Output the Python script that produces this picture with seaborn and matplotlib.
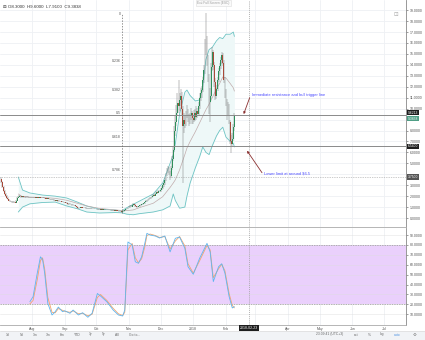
import numpy as np
import pandas as pd
import matplotlib
matplotlib.use("Agg")
import matplotlib.pyplot as plt
import seaborn as sns
from matplotlib.transforms import blended_transform_factory
from matplotlib.patches import Rectangle

# ---------------- data (day index: 0 = 2017-07-01) ----------------
first_day = 2
first_open = 3.60
close = [
    # Jul
    3.30, 2.80, 2.45, 2.20, 2.05, 1.85, 1.70, 1.60, 1.55, 1.50, 1.42, 1.52, 1.45, 1.40, 1.60, 1.85, 1.95, 2.05, 2.00, 1.90, 1.98, 1.95, 1.90, 1.92, 1.96, 1.88, 1.92, 1.90, 1.86,
    # Aug
    1.88, 1.92, 1.90, 1.86, 1.90, 1.87, 1.85, 1.88, 1.84, 1.86, 1.82, 1.85, 1.80, 1.78, 1.76, 1.80, 1.74, 1.72, 1.70, 1.66, 1.68, 1.62, 1.60, 1.64, 1.58, 1.55, 1.58, 1.52, 1.50, 1.48, 1.45,
    # Sep
    1.42, 1.40, 1.36, 1.25, 1.30, 1.28, 1.24, 1.18, 1.20, 1.15, 1.10, 1.05, 0.95, 0.88, 0.92, 0.98, 0.96, 0.94, 0.92, 0.95, 0.90, 0.88, 0.86, 0.88, 0.85, 0.86, 0.84, 0.82, 0.85, 0.83,
    # Oct
    0.82, 0.80, 0.78, 0.80, 0.76, 0.78, 0.75, 0.77, 0.74, 0.72, 0.75, 0.73, 0.74, 0.72, 0.70, 0.71, 0.70, 0.68, 0.69, 0.67, 0.66, 0.64, 0.62, 0.60, 0.56, 0.60, 0.66, 0.72, 0.80, 0.85, 0.90,
    # Nov
    1.00, 1.10, 1.05, 1.15, 1.25, 1.20, 1.10, 1.05, 1.00, 1.08, 1.15, 1.20, 1.25, 1.30, 1.35, 1.45, 1.55, 1.60, 1.70, 1.75, 1.80, 1.90, 2.00, 2.10, 2.05, 2.20, 2.35, 2.30, 2.50, 2.45,
    # Dec
    2.60, 2.75, 3.00, 3.20, 3.50, 3.90, 4.30, 4.50, 4.10, 3.80, 4.60, 5.40, 6.20, 8.00, 8.80, 9.60, 10.50, 10.20, 10.80, 11.20, 10.00, 8.40, 9.00, 8.60, 9.40, 9.80, 9.20, 8.80, 9.30, 9.60, 9.10,
    # Jan
    9.00, 9.60, 9.20, 9.80, 9.50, 10.20, 11.00, 11.40, 11.70, 12.60, 13.50, 15.80, 16.20, 14.50, 12.80, 10.60, 11.20, 13.80, 15.20, 14.00, 12.40, 11.20, 11.80, 12.60, 13.40, 13.90, 14.40, 14.90, 14.20, 12.60, 11.40,
    # Feb
    10.60, 9.80, 10.20, 8.80, 7.00, 6.80, 7.20, 8.30, 9.3838,
]
high = [
    3.75, 3.40, 2.90, 2.55, 2.30, 2.10, 1.90, 1.78, 1.66, 1.60, 1.55, 1.58, 1.56, 1.48, 1.64, 1.92, 2.02, 2.15, 2.10, 2.04, 2.02, 2.04, 1.98, 1.97, 2.00, 1.99, 1.95, 1.96, 1.93,
    1.93, 1.96, 1.95, 1.93, 1.94, 1.92, 1.90, 1.92, 1.90, 1.90, 1.88, 1.89, 1.87, 1.83, 1.80, 1.84, 1.82, 1.77, 1.75, 1.72, 1.72, 1.70, 1.66, 1.68, 1.66, 1.61, 1.62, 1.60, 1.55, 1.53, 1.51,
    1.48, 1.45, 1.42, 1.38, 1.34, 1.33, 1.30, 1.26, 1.24, 1.22, 1.17, 1.12, 1.07, 0.97, 0.96, 1.02, 1.01, 0.99, 0.96, 0.98, 0.97, 0.93, 0.90, 0.91, 0.90, 0.89, 0.88, 0.86, 0.88, 0.87,
    0.86, 0.84, 0.82, 0.83, 0.81, 0.80, 0.79, 0.79, 0.78, 0.76, 0.77, 0.77, 0.76, 0.76, 0.73, 0.73, 0.73, 0.72, 0.71, 0.70, 0.69, 0.67, 0.66, 0.64, 0.62, 0.62, 0.69, 0.75, 0.84, 0.90, 0.96,
    1.08, 1.18, 1.15, 1.22, 1.35, 1.32, 1.24, 1.14, 1.08, 1.12, 1.20, 1.26, 1.30, 1.36, 1.40, 1.50, 1.62, 1.68, 1.76, 1.82, 1.88, 1.96, 2.08, 2.18, 2.16, 2.28, 2.45, 2.42, 2.60, 2.58,
    2.72, 2.90, 3.15, 3.40, 3.70, 4.10, 4.60, 4.80, 4.70, 4.30, 4.80, 5.70, 6.60, 8.40, 9.30, 10.30, 11.40, 12.60, 11.40, 11.80, 11.50, 10.20, 9.60, 9.40, 9.80, 10.30, 10.00, 9.50, 9.60, 10.10, 9.80,
    9.40, 9.90, 10.00, 10.20, 10.10, 10.60, 11.40, 11.90, 12.10, 12.90, 14.00, 16.40, 18.70, 16.60, 14.90, 13.20, 11.90, 14.20, 15.60, 15.40, 14.30, 12.80, 12.20, 12.90, 13.70, 14.20, 14.70, 15.20, 15.10, 14.40, 12.90,
    11.80, 10.90, 10.60, 10.40, 9.00, 7.60, 7.80, 8.60, 9.60,
]
low = [
    3.20, 2.70, 2.35, 2.10, 1.95, 1.78, 1.62, 1.55, 1.48, 1.44, 1.36, 1.40, 1.40, 1.35, 1.38, 1.58, 1.80, 1.90, 1.92, 1.85, 1.86, 1.90, 1.86, 1.86, 1.88, 1.85, 1.85, 1.86, 1.82,
    1.82, 1.85, 1.86, 1.83, 1.84, 1.84, 1.81, 1.83, 1.80, 1.81, 1.79, 1.80, 1.77, 1.74, 1.72, 1.74, 1.71, 1.68, 1.66, 1.63, 1.63, 1.59, 1.56, 1.58, 1.55, 1.51, 1.53, 1.49, 1.46, 1.44, 1.41,
    1.38, 1.36, 1.32, 1.20, 1.22, 1.24, 1.20, 1.14, 1.15, 1.12, 1.06, 1.00, 0.90, 0.82, 0.85, 0.90, 0.93, 0.91, 0.89, 0.90, 0.87, 0.85, 0.83, 0.84, 0.82, 0.83, 0.81, 0.79, 0.80, 0.80,
    0.80, 0.77, 0.75, 0.76, 0.74, 0.74, 0.72, 0.73, 0.71, 0.69, 0.70, 0.70, 0.71, 0.69, 0.68, 0.68, 0.67, 0.65, 0.66, 0.64, 0.63, 0.61, 0.59, 0.57, 0.50, 0.54, 0.58, 0.64, 0.70, 0.78, 0.82,
    0.88, 0.96, 1.00, 1.02, 1.12, 1.15, 1.05, 1.00, 0.95, 0.98, 1.05, 1.12, 1.16, 1.22, 1.28, 1.32, 1.42, 1.50, 1.56, 1.66, 1.70, 1.76, 1.86, 1.96, 1.98, 2.02, 2.16, 2.22, 2.26, 2.36,
    2.38, 2.52, 2.65, 2.88, 3.05, 3.40, 3.80, 4.15, 3.95, 3.50, 3.70, 4.40, 5.20, 6.00, 7.50, 8.40, 9.30, 9.60, 9.80, 10.20, 9.40, 3.20, 7.80, 8.20, 8.40, 9.10, 8.80, 8.40, 8.60, 9.00, 8.60,
    8.60, 8.80, 8.90, 9.00, 9.10, 9.30, 10.00, 10.70, 11.00, 11.50, 12.30, 13.20, 14.90, 13.90, 12.40, 9.50, 8.80, 10.90, 13.40, 13.50, 12.00, 10.80, 10.90, 11.60, 12.40, 13.10, 13.60, 14.10, 13.90, 12.30, 11.00,
    10.20, 9.00, 9.40, 8.60, 6.80, 5.90, 6.60, 7.00, 7.91,
]

# Bollinger bands
bb_days = [18, 22, 29, 41, 53, 64, 74, 83, 95, 110, 116, 121, 127, 133, 146, 155, 162, 165, 167, 171, 176, 178, 181, 186, 190, 193, 196, 199, 202, 206, 209, 212, 215, 219, 222, 223]
bb_upper = [3.75, 2.56, 2.29, 2.10, 2.00, 1.83, 1.46, 1.10, 0.82, 0.73, 0.64, 0.95, 1.25, 1.55, 2.20, 3.20, 5.00, 5.80, 6.80, 9.50, 11.50, 11.70, 11.20, 10.70, 10.80, 12.00, 14.50, 15.40, 15.60, 16.20, 16.50, 16.40, 16.80, 16.80, 17.00, 16.60]
bb_mid = [2.20, 1.95, 1.92, 1.88, 1.80, 1.62, 1.35, 1.10, 0.88, 0.74, 0.70, 0.68, 0.74, 0.95, 1.35, 1.95, 2.80, 3.20, 3.50, 4.40, 5.80, 6.40, 7.00, 7.90, 8.70, 9.30, 9.90, 10.40, 11.00, 11.80, 12.30, 12.90, 12.80, 12.30, 11.90, 11.60]
bb_lower = [0.55, 1.00, 1.30, 1.42, 1.46, 1.10, 0.85, 0.55, 0.46, 0.50, 0.48, 0.35, 0.30, 0.40, 0.55, 0.75, 1.10, 2.20, 1.60, 0.90, 1.00, 2.00, 3.20, 4.60, 5.60, 6.50, 6.00, 5.80, 6.60, 7.50, 8.00, 8.30, 7.40, 7.00, 6.80, 6.50]

# Stochastic RSI
stoch_days = [29, 32, 36, 39, 41, 43, 46, 50, 53, 56, 60, 62, 67, 70, 75, 79, 84, 88, 93, 96, 102, 108, 113, 117, 119, 122, 126, 129, 132, 135, 138, 140, 143, 148, 152, 157, 162, 167, 171, 176, 179, 184, 190, 197, 200, 203, 208, 211, 214, 218, 221, 223]
stoch_k = [22.7, 27.8, 51.6, 68, 65.5, 51.6, 21, 9.3, 12.6, 17.3, 12.6, 13.6, 11, 14.3, 9.3, 11.6, 7, 11, 31, 28.5, 22.7, 14.3, 9.3, 8.3, 14.3, 83, 80, 63, 61.5, 68, 81.6, 91.7, 90, 89, 87, 89, 73, 86.7, 88, 76.6, 58, 50.4, 66.5, 81.6, 73, 43, 58, 61, 51.6, 27.8, 16.4, 17.7]
stoch_d = [20.5, 24.0, 45.0, 64.0, 67.0, 56.0, 27.0, 12.0, 11.5, 15.8, 14.0, 13.0, 12.0, 13.5, 10.5, 11.0, 8.5, 10.0, 27.0, 30.0, 24.0, 16.0, 10.5, 8.8, 12.0, 75.0, 81.5, 67.0, 62.0, 66.0, 78.0, 89.5, 91.0, 89.5, 87.5, 88.5, 76.0, 84.0, 88.5, 79.0, 61.0, 51.5, 64.0, 79.5, 75.0, 47.0, 56.0, 60.5, 54.0, 31.0, 19.0, 16.5]

month_days = [31, 62, 92, 123, 153, 184, 215, 243, 274, 304, 335, 365]
month_labels = ["Aug", "Sep", "Oct", "Nov", "Dec", "2018", "Feb", "", "Apr", "May", "Jun", "Jul"]

price_ticks = [0, 1, 2, 3, 5, 6, 7, 8, 10, 11, 12, 13, 14, 15, 16, 17, 18, 19]
stoch_ticks = [10, 20, 30, 40, 50, 60, 70, 80, 90]

fib_levels = ["0", "0.236", "0.382", "0.5", "0.618", "0.786"]
fib_high, fib_low = 18.65, 0.50
resistance_price = 9.45
support_price = 6.54
cross_day, cross_price = 236.9, 3.75

# ---------------- figure ----------------
sns.set_theme(style="white")
plt.rcParams["font.family"] = ["Liberation Sans", "DejaVu Sans"]

W, H = 425, 340
fig = plt.figure(figsize=(W / 100, H / 100), dpi=100)
fig.patch.set_facecolor("white")

def box(x0, y0, x1, y1):
    return [x0 / W, 1 - y1 / H, (x1 - x0) / W, (y1 - y0) / H]

ax = fig.add_axes(box(0, 0, 406, 227))
ax2 = fig.add_axes(box(0, 228, 406, 325))

xlim = (0.64, 385.8)
ax.set_xlim(*xlim)
ax2.set_xlim(*xlim)
ax.set_ylim(-0.82, 19.93)
ax2.set_ylim(-0.8, 97.1)

grid_c = "#eef0f4"
for a in (ax, ax2):
    for d in month_days:
        a.axvline(d, color=grid_c, lw=0.6, zorder=0)
for p in range(0, 20):
    ax.axhline(p, color=grid_c, lw=0.6, zorder=0)

# Bollinger bands
ax.fill_between(bb_days, bb_lower, bb_upper, color="#eef8f8", lw=0, zorder=1)
sns.lineplot(x=bb_days, y=bb_upper, ax=ax, color="#6cc3c3", lw=0.6, zorder=2)
sns.lineplot(x=bb_days, y=bb_lower, ax=ax, color="#6cc3c3", lw=0.6, zorder=2)
sns.lineplot(x=bb_days, y=bb_mid, ax=ax, color="#c0abab", lw=0.5, zorder=2)

# candles
days = np.arange(first_day, first_day + len(close))
c = np.array(close)
o = np.array([first_open] + close[:-1])
hi = np.maximum(np.array(high), np.maximum(o, c))
lo = np.minimum(np.array(low), np.minimum(o, c))
up = c >= o
cols = np.where(up, "#2f8f5b", "#a94a3a")
ax.vlines(days, lo, hi, colors="#7a7a7a", lw=0.35, zorder=3)
body_bottom = np.minimum(o, c)
body_h = np.maximum(np.abs(c - o), 0.03)
ax.bar(days, body_h, bottom=body_bottom, width=0.7, color=cols, lw=0, zorder=4)

# horizontal lines
ax.axhline(resistance_price, color="#8a8a8a", lw=0.7, zorder=5)
ax.axhline(support_price, color="#8a8a8a", lw=0.7, zorder=5)
ax.axhline(cross_price, color="#999999", lw=0.5, ls=(0, (1, 1.5)), zorder=5)
ax.axvline(cross_day, color="#999999", lw=0.5, ls=(0, (1.5, 1.5)), zorder=5)
ax2.axvline(cross_day, color="#999999", lw=0.5, ls=(0, (1.5, 1.5)), zorder=5)

# fib
fib_x = 116.4
ax.vlines(fib_x, fib_low, fib_high, colors="#666666", lw=0.5, linestyles=(0, (2, 2)), zorder=5)
for lab in fib_levels:
    f = float(lab)
    price = fib_high - f * (fib_high - fib_low)
    ax.text(fib_x - 1.5, price, lab, fontsize=2.5, color="#555555", ha="right", va="center", zorder=6)

# annotations
ax.text(239.7, 11.24, "Immediate resistance and bull trigger line", fontsize=2.9,
        color="#4a4aff", ha="left", va="center", zorder=7)
ax.annotate("", xy=(231.8, 9.5), xytext=(237.5, 11.0),
            arrowprops=dict(arrowstyle="-|>", color="#8b3030", lw=0.6, mutation_scale=3,
                            shrinkA=0, shrinkB=0), zorder=7)
ax.text(250.8, 4.09, "Lower limit at around $6.5", fontsize=2.9,
        color="#4a4aff", ha="left", va="center", zorder=7)
ax.annotate("", xy=(235.0, 6.15), xytext=(249.2, 4.14),
            arrowprops=dict(arrowstyle="-|>", color="#8b3030", lw=0.6, mutation_scale=3,
                            shrinkA=0, shrinkB=0), zorder=7)

# header
ax.text(3 / 406, 1 - 7.3 / 227, "\u229f O8.3000  H9.6000  L7.9100  C9.3838", transform=ax.transAxes,
        fontsize=3.2, color="#333333", ha="left", va="center", family=["Liberation Sans", "DejaVu Sans"])
ax.text(213.5 / 406, 1 - 3.2 / 227, "Exit Full Screen (ESC)", transform=ax.transAxes, fontsize=2.3,
        color="#9a9a9a", ha="center", va="center",
        bbox=dict(boxstyle="square,pad=0.3", fc="#fafafa", ec="#dddddd", lw=0.4))
ax.text(396 / 406, 1 - 14 / 227, "\u22a1", transform=ax.transAxes, fontsize=4, color="#aaaaaa",
        ha="center", va="center", family=["DejaVu Sans"])

# stochastic RSI panel
ax2.axhspan(20, 80, color="#ead0fc", lw=0, zorder=0.5)
for v in range(10, 100, 10):
    ax2.axhline(v, color="#dddddd", lw=0.5, alpha=0.6, zorder=0.6)
ax2.axhline(80, color="#999999", lw=0.5, ls=(0, (2, 1.5)), zorder=1)
ax2.axhline(20, color="#999999", lw=0.5, ls=(0, (2, 1.5)), zorder=1)
sns.lineplot(x=stoch_days, y=stoch_d, ax=ax2, color="#f4a36c", lw=0.6, zorder=3)
sns.lineplot(x=stoch_days, y=stoch_k, ax=ax2, color="#5fb5ee", lw=0.6, zorder=4)

# axes styling
for a in (ax, ax2):
    a.yaxis.tick_right()
    a.set_xlabel("")
    a.set_ylabel("")
    for s in ("left", "top"):
        a.spines[s].set_visible(False)
    a.spines["right"].set_color("#888888")
    a.spines["right"].set_linewidth(0.6)
    a.spines["bottom"].set_color("#aaaaaa")
    a.spines["bottom"].set_linewidth(0.6)
    a.tick_params(axis="y", labelsize=2.5, length=1.5, width=0.4, pad=1.5, colors="#555555")
    a.set_facecolor("white")

ax.set_yticks(price_ticks)
ax.set_yticklabels([f"{v:.4f}" for v in price_ticks])
ax.set_xticks([])
ax2.set_yticks(stoch_ticks)
ax2.set_yticklabels([f"{v:.4f}" for v in stoch_ticks])
ax2.set_xticks(month_days)
ax2.set_xticklabels(month_labels)
ax2.tick_params(axis="x", labelsize=2.5, length=0, pad=1.2, colors="#555555")

# price tags on right axis
def tag(a, y, text, fc):
    tr = blended_transform_factory(a.transAxes, a.transData)
    a.text(1.004, y, text, transform=tr, fontsize=2.4, color="white", ha="left", va="center",
           bbox=dict(boxstyle="square,pad=0.2", fc=fc, ec="none"), clip_on=False, zorder=10)

tag(ax, 9.62, "9.6213", "#1e1e1e")
tag(ax, 9.07, "9.3838", "#4f9f86")
tag(ax, support_price, "6.5400", "#1e1e1e")
tag(ax, cross_price, "3.7500", "#555555")

# crosshair date label
fig.text(249 / W, 1 - 327.7 / H, "2018-02-23", fontsize=2.5, color="white", ha="center", va="center",
         bbox=dict(boxstyle="square,pad=0.3", fc="#1e1e1e", ec="none"))

# bottom toolbar
fig.patches.append(Rectangle((0, 0), 1, 9.5 / H, transform=fig.transFigure, fc="#f1f3f6",
                             ec="none", zorder=0))
fig.lines.append(plt.Line2D([0, 1], [9.5 / H, 9.5 / H], transform=fig.transFigure,
                            color="#dcdcdc", lw=0.5))
left_items = [("1d", 8), ("5d", 22), ("1m", 35), ("3m", 48), ("6m", 62), ("YTD", 77),
              ("1y", 91), ("5y", 104), ("All", 117), ("Go to...", 135)]
for t, x in left_items:
    fig.text(x / W, 1 - 334.5 / H, t, fontsize=2.4, color="#666666", ha="center", va="center")
right_items = [("23:09:41 (UTC+3)", 330, "#666666"), ("ext", 356, "#666666"), ("%", 369, "#666666"),
               ("log", 382, "#666666"), ("auto", 397, "#4a90e2")]
for t, x, col in right_items:
    fig.text(x / W, 1 - 334.5 / H, t, fontsize=2.4, color=col, ha="center", va="center")
fig.text(415 / W, 1 - 334.5 / H, "\u2699", fontsize=3.2, color="#777777", ha="center", va="center",
         family=["DejaVu Sans"])

fig.savefig("out.png", dpi=100, facecolor="white")
